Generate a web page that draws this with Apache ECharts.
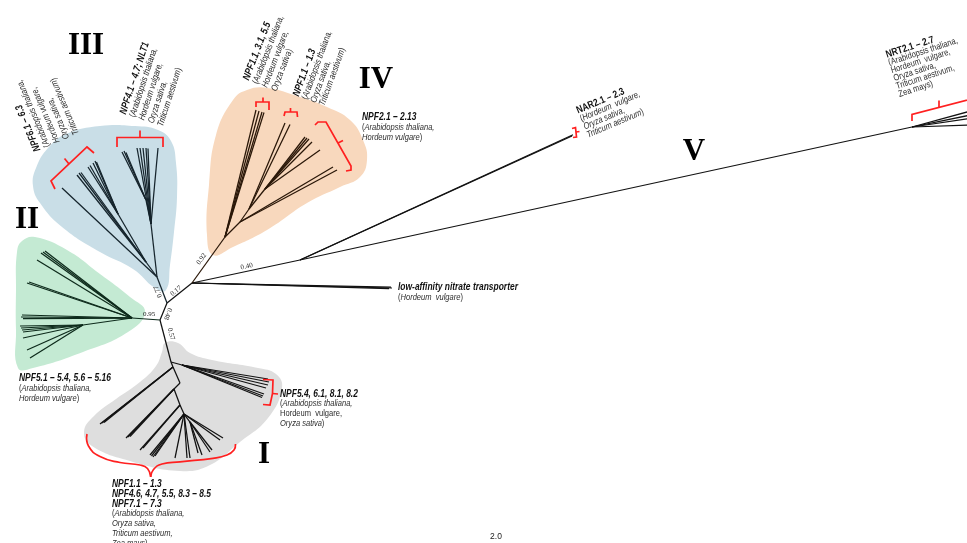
<!DOCTYPE html>
<html><head><meta charset="utf-8"><title>NPF phylogenetic tree</title>
<script src="https://cdn.jsdelivr.net/npm/echarts@6.0.0/dist/echarts.min.js"></script>
<style>html,body{margin:0;padding:0;background:#fff;overflow:hidden}#chart{width:967px;height:543px}</style>
</head><body><div id="chart"></div>
<script>
// ================= DATA =================
// tree nodes: [id, parentId, x, y] in tree-space units
const coreNodes = [
  ['A', null, 160, 320], ['B', 'A', 167, 303], ['C', 'B', 192, 283],
  ['D', 'C', 300, 260], ['E', 'D', 912, 127],
  ['LA1', 'C', 392, 288], ['LA2', 'C', 391, 287.2], ['LA3', 'C', 389, 288.7],
  ['NA1', 'D', 572, 136], ['NA2', 'D', 573, 134.8],
  ['NT1', 'E', 1000, 103], ['NT2', 'E', 1000, 109], ['NT3', 'E', 1000, 114], ['NT4', 'E', 1000, 124]
];
const cladeI = [
  ['N1', 'A', 171, 362], ['r1', 'N1', 182, 365],
  ['L1a1', 'r1', 268, 379], ['L1a2', 'r1', 269, 382], ['L1a3', 'r1', 268, 385], ['L1a4', 'r1', 266, 388],
  ['L1a5', 'r1', 264, 394], ['L1a6', 'r1', 262, 397.5], ['L1a7', 'r1', 263, 396],
  ['P1', 'N1', 173, 367],
  ['L1b1', 'P1', 102, 423], ['L1b2', 'P1', 100, 424], ['L1b3', 'P1', 104, 422.5],
  ['Q1', 'P1', 180, 383], ['R1', 'Q1', 174, 389],
  ['L1c1', 'R1', 128, 437], ['L1c2', 'R1', 126, 438], ['L1c3', 'R1', 130, 436.5],
  ['N2', 'R1', 180, 405],
  ['L1d1', 'N2', 140, 450], ['L1d2', 'N2', 143, 448],
  ['n2a', 'N2', 184, 414],
  ['L1e1', 'n2a', 150, 455], ['L1e2', 'n2a', 151.5, 456], ['L1e3', 'n2a', 153, 457], ['L1e4', 'n2a', 155, 456],
  ['L1f', 'n2a', 175, 458],
  ['L1g1', 'n2a', 187, 458], ['L1g2', 'n2a', 190, 458],
  ['n2b', 'n2a', 190, 422],
  ['L1h1', 'n2b', 198, 453], ['L1h2', 'n2b', 202, 455], ['L1h3', 'n2b', 210, 452], ['L1h4', 'n2b', 212, 450],
  ['L1i1', 'n2a', 220, 440], ['L1i2', 'n2a', 223, 438]
];
const cladeII = [
  ['p2', 'A', 132, 318],
  ['L2a1', 'p2', 41, 253], ['L2a2', 'p2', 43, 252], ['L2a3', 'p2', 45, 251], ['L2a4', 'p2', 37, 260],
  ['L2b1', 'p2', 27, 283], ['L2b2', 'p2', 29, 282],
  ['L2c1', 'p2', 21, 317], ['L2c2', 'p2', 22, 315], ['L2c3', 'p2', 23, 318.5],
  ['t2', 'p2', 83, 325],
  ['L2d1', 't2', 20, 326], ['L2d2', 't2', 21, 328], ['L2d3', 't2', 22, 330], ['L2d4', 't2', 23, 332],
  ['L2e', 't2', 23, 338], ['L2f', 't2', 27, 350], ['L2g', 't2', 30, 358]
];
const cladeIII = [
  ['n3', 'B', 157, 277],
  ['L3a', 'n3', 62, 188],
  ['a3', 'n3', 146, 262],
  ['L3b1', 'a3', 77, 175], ['L3b2', 'a3', 79, 173], ['L3b3', 'a3', 81, 172.5],
  ['b3', 'a3', 118, 214],
  ['L3c1', 'b3', 88, 167], ['L3c2', 'b3', 90, 165.5], ['L3c3', 'b3', 93, 163], ['L3c4', 'b3', 95, 161], ['L3c5', 'b3', 96.5, 162],
  ['c3', 'n3', 151, 224],
  ['d3', 'c3', 146, 200],
  ['L3d1', 'd3', 122, 152], ['L3d2', 'd3', 124, 151], ['L3d3', 'd3', 126, 152.5],
  ['L3e1', 'c3', 137, 148], ['L3e2', 'c3', 140, 148], ['L3e3', 'c3', 143, 148], ['L3e4', 'c3', 146, 148], ['L3e5', 'c3', 148, 148.5],
  ['L3f', 'c3', 158, 148]
];
const cladeIV = [
  ['r4', 'C', 225, 237],
  ['L4a1', 'r4', 256, 110], ['L4a2', 'r4', 259, 111], ['L4a3', 'r4', 262, 112], ['L4a4', 'r4', 264, 112.5],
  ['f4', 'r4', 240, 222],
  ['L4c1', 'f4', 333, 167], ['L4c2', 'f4', 337, 170],
  ['h4', 'f4', 249, 209],
  ['L4b1', 'h4', 285, 123], ['L4b2', 'h4', 290, 124.5],
  ['i4', 'h4', 265, 189],
  ['L4d1', 'i4', 305, 137], ['L4d2', 'i4', 307, 138], ['L4d3', 'i4', 309, 139], ['L4d4', 'i4', 312, 142], ['L4d5', 'i4', 320, 150]
];

// clade shading outlines
const blobI = [[165,343],[178,343],[190,353],[212,360],[258,368],[276,374],[282,388],[268,418],[240,442],[210,465],[180,471],[130,461],[92,446],[84,432],[94,416],[116,399],[140,382],[156,366],[162,352]];
const blobII = [[17,252],[22,241],[35,237],[67,250],[100,274],[130,297],[145,312],[128,332],[83,352],[33,368],[18,368],[16,330],[16,290]];
const blobIII = [[33,186],[36,168],[48,148],[66,134],[100,126],[135,126],[158,130],[171,141],[176,163],[177,197],[174,232],[170,265],[166,290],[155,288],[133,269],[100,252],[62,227],[40,203]];
const blobIV = [[247,90],[267,88],[300,97],[327,107],[350,120],[363,140],[367,160],[360,177],[340,187],[307,203],[267,230],[233,247],[213,255],[207,235],[209,185],[216,135],[233,100]];

// support values on internal branches
const supportValues = ['0.95', '0.77', '0.17', '0.92', '0.40', '0.48', '0.57'];
// clade numerals
const cladeNames = ['I', 'II', 'III', 'IV', 'V'];
// scale label
const scaleLabel = '2.0';

// gene-family labels (rich text lines)
const labelNPF6 = ['{b|NPF6.1 – 6.3}', '{n|(}{i|Arabidopsis thaliana,}', '{i|Hordeum vulgare,}', '{i|Oryza sativa,}', '{i|Triticum aestivum}{n|)}'];
const labelNPF4 = ['{b|NPF4.1 – 4.7; NLT1}', '{n|(}{i|Arabidopsis thaliana,}', '{i|Hordeum vulgare,}', '{i|Oryza sativa,}', '{i|Triticum aestivum}{n|)}'];
const labelNPF1a = ['{b|NPF1.1, 3.1, 5.5}', '{n|(}{i|Arabidopsis thaliana,}', '{i|Hordeum vulgare,}', '{i|Oryza sativa}{n|)}'];
const labelNPF1b = ['{b|NPF1.1 – 1.3}', '{n|(}{i|Arabidopsis thaliana,}', '{i|Oryza sativa,}', '{i|Triticum aestivum}{n|)}'];
const labelNPF2 = ['{b|NPF2.1 – 2.13}', '{n|(}{i|Arabidopsis thaliana,}', '{i|Hordeum vulgare}{n|)}'];
const labelNAR2 = ['{bn|NAR2.1 – 2.3}', '{n|(}{i|Hordeum  vulgare,}', '{i|Oryza sativa,}', '{i|Triticum aestivum}{n|)}'];
const labelNRT2 = ['{bn|NRT2.1 – 2.7}', '{n|(Arabidopsis thaliana,}', '{n|Hordeum  vulgare,}', '{n|Oryza sativa,}', '{n|Triticum aestivum,}', '{n|Zea mays)}'];
const labelLow = ['{b|low-affinity nitrate transporter}', '{n|(}{i|Hordeum  vulgare}{n|)}'];
const labelNPF5a = ['{b|NPF5.1 – 5.4, 5.6 – 5.16}', '{n|(}{i|Arabidopsis thaliana,}', '{i|Hordeum vulgare}{n|)}'];
const labelNPF5b = ['{b|NPF5.4, 6.1, 8.1, 8.2}', '{n|(}{i|Arabidopsis thaliana,}', '{n|Hordeum  vulgare,}', '{i|Oryza sativa}{n|)}'];
const labelCladeI = ['{b|NPF1.1 – 1.3}', '{b|NPF4.6, 4.7, 5.5, 8.3 – 8.5}', '{b|NPF7.1 – 7.3}', '{n|(}{i|Arabidopsis thaliana,}', '{i|Oryza sativa,}', '{i|Triticum aestivum,}', '{i|Zea mays}{n|)}'];

// ================= LAYOUT / STYLE =================
function hasFont(f) {
  const c = document.createElement('canvas').getContext('2d');
  const s = 'mmmmmmmmmmwwwwwlli0123456789';
  c.font = '40px monospace'; const a = c.measureText(s).width;
  c.font = '40px "' + f + '", monospace'; return c.measureText(s).width !== a;
}
const NARROW = hasFont('Liberation Sans Narrow');
const SANS = NARROW ? '"Liberation Sans Narrow", "Arial Narrow", sans-serif' : '"Liberation Sans", Arial, sans-serif';
const SX = NARROW ? 1 : 0.82;
const SERIF = '"Liberation Serif", "Times New Roman", serif';
const FS_B = 10.3, FS_N = 9.2;
const rich = {
  b: { fontFamily: SANS, fontSize: FS_B, fontWeight: 'bold', fontStyle: 'italic', fill: '#111' },
  bn: { fontFamily: SANS, fontSize: FS_B, fontWeight: 'bold', fill: '#111' },
  i: { fontFamily: SANS, fontSize: FS_N, fontStyle: 'italic', fill: '#2a2a2a' },
  n: { fontFamily: SANS, fontSize: FS_N, fill: '#2a2a2a' }
};

const clades = [
  { nodes: coreNodes, color: '#121212' },
  { nodes: cladeI, color: '#121212' },
  { nodes: cladeII, color: '#0d2a1b' },
  { nodes: cladeIII, color: '#15242c' },
  { nodes: cladeIV, color: '#2a1708' }
];
const blobs = [
  { pts: blobIII, color: '#c9dee7' },
  { pts: blobIV, color: '#f8d8bd' },
  { pts: blobII, color: '#c4ead3' },
  { pts: blobI, color: '#dedede' }
];
const labelBlocks = [
  { lines: labelNPF6, at: [38, 151], rot: 113, lh: 10.5 },
  { lines: labelNPF4, at: [123, 114], rot: 72, lh: 9.8 },
  { lines: labelNPF1a, at: [246, 80], rot: 69, lh: 10 },
  { lines: labelNPF1b, at: [296, 96], rot: 70, lh: 9.2 },
  { lines: labelNPF2, at: [362, 117], rot: 0, lh: 10 },
  { lines: labelNAR2, at: [577, 111], rot: 23, lh: 8.8 },
  { lines: labelNRT2, at: [886, 55], rot: 18, lh: 8.3 },
  { lines: labelLow, at: [398, 287], rot: 0, lh: 10.3 },
  { lines: labelNPF5a, at: [19, 378], rot: 0, lh: 10 },
  { lines: labelNPF5b, at: [280, 394], rot: 0, lh: 9.8 },
  { lines: labelCladeI, at: [112, 484], rot: 0, lh: 9.85 }
];
const supportLayout = [[149, 314, 0], [158, 291.5, 113], [176, 291, 39], [201.5, 259, 54], [246.7, 266.5, 12], [168, 314, -110], [171, 334, -75]];
const cladeNameLayout = [[264, 455], [27, 220], [86, 46], [376, 80], [694, 152]];
const scaleLayout = [496, 537];

const brackets = [
  { pts: [[55,189],[51,181],[87,147],[94,153]], tick: [[69,164],[64.5,158.5]] },
  { pts: [[117,147],[117,137.5],[163,137.5],[163,147]], tick: [[140,137.5],[140,130.5]] },
  { pts: [[256,107],[256,102],[269,102],[269,110]], tick: [[263,102],[263,97.5]] },
  { pts: [[284,116],[285,112],[297,112],[297.5,117]], tick: [[290.5,112],[290.5,108]] },
  { pts: [[315,125],[318,122],[326,122],[351,166],[351,170],[346,171]], tick: [[338,143],[343,140.5]] },
  { pts: [[572,128.5],[575.5,127.5],[576.5,137],[573,137.5]], tick: [[576,132],[579.5,131.5]] },
  { pts: [[912,121],[912,114.5],[975,98]], tick: [[939,107.5],[939,100.5]] },
  { pts: [[263,379.5],[273,380],[272.5,393.5],[270,405],[263,404.5]], tick: [[272.5,393.5],[278,394]] },
  { pts: [[87,434],[88.5,446],[100,456.5],[120,462.5],[140,465],[147.5,468.5],[150.7,477]], smooth: true },
  { pts: [[150.7,477],[153.5,469.5],[162,464],[180,461.8],[213,458.3],[227,455],[234,450],[235.5,444]], smooth: true }
];

// ================= BUILD =================
const pos = {};
clades.forEach(c => c.nodes.forEach(n => { pos[n[0]] = [n[2], n[3]]; }));
function edges(nodes) {
  return nodes.filter(n => n[1] !== null).map(n => ({ coords: [pos[n[1]], [n[2], n[3]]] }));
}
const RAD = Math.PI / 180;

const textItems = [];
labelBlocks.forEach(b => textItems.push({ kind: 'block', b }));
supportValues.forEach((v, i) => textItems.push({ kind: 'support', text: v, p: supportLayout[i] }));
cladeNames.forEach((v, i) => textItems.push({ kind: 'numeral', text: v, p: cladeNameLayout[i] }));
textItems.push({ kind: 'scale', text: scaleLabel, p: scaleLayout });

const chart = echarts.init(document.getElementById('chart'), null, { renderer: 'canvas' });
chart.setOption({
  animation: false,
  backgroundColor: '#ffffff',
  grid: { left: 0, right: 0, top: 0, bottom: 0 },
  xAxis: { type: 'value', min: 0, max: 967, show: false },
  yAxis: { type: 'value', min: 0, max: 543, inverse: true, show: false },
  series: [
    {
      type: 'custom', coordinateSystem: 'cartesian2d', silent: true, z: 1,
      data: blobs.map(() => [0, 0]),
      renderItem: (params, api) => {
        const b = blobs[params.dataIndex];
        return { type: 'polygon', shape: { points: b.pts.map(p => api.coord(p)), smooth: 0.45 }, style: { fill: b.color } };
      }
    },
    ...clades.map(c => ({
      type: 'lines', coordinateSystem: 'cartesian2d', silent: true, z: 2,
      data: edges(c.nodes),
      lineStyle: { color: c.color, width: 1.25, opacity: 1 }
    })),
    {
      type: 'custom', coordinateSystem: 'cartesian2d', silent: true, z: 3,
      data: brackets.map(() => [0, 0]),
      renderItem: (params, api) => {
        const br = brackets[params.dataIndex];
        const st = { stroke: '#ff2020', lineWidth: 1.7, fill: null, lineJoin: 'miter' };
        const children = [{ type: 'polyline', shape: { points: br.pts.map(p => api.coord(p)), smooth: br.smooth ? 0.5 : 0 }, style: st }];
        if (br.tick) children.push({ type: 'polyline', shape: { points: br.tick.map(p => api.coord(p)) }, style: st });
        return { type: 'group', children };
      }
    },
    {
      type: 'custom', coordinateSystem: 'cartesian2d', silent: true, z: 4,
      data: textItems.map(() => [0, 0]),
      renderItem: (params, api) => {
        const t = textItems[params.dataIndex];
        if (t.kind === 'block') {
          const b = t.b, th = b.rot * RAD, p0 = api.coord(b.at);
          const dx = Math.sin(th), dy = Math.cos(th);
          return {
            type: 'group',
            children: b.lines.map((ln, i) => ({
              type: 'text', x: p0[0] + dx * b.lh * i, y: p0[1] + dy * b.lh * i, rotation: th, scaleX: SX,
              style: { text: ln, rich, align: 'left', verticalAlign: 'middle', fontFamily: SANS, fontSize: FS_N, fill: '#222' }
            }))
          };
        }
        const p = api.coord([t.p[0], t.p[1]]);
        if (t.kind === 'support') {
          return { type: 'text', x: p[0], y: p[1], rotation: (t.p[2] || 0) * RAD,
            style: { text: t.text, fontFamily: SERIF, fontSize: 7, fill: '#222', align: 'center', verticalAlign: 'middle' } };
        }
        if (t.kind === 'numeral') {
          return { type: 'text', x: p[0], y: p[1],
            style: { text: t.text, fontFamily: SERIF, fontSize: 31, fontWeight: 'bold', fill: '#000', align: 'center', verticalAlign: 'middle' } };
        }
        return { type: 'text', x: p[0], y: p[1],
          style: { text: t.text, fontFamily: '"Liberation Sans", Arial, sans-serif', fontSize: 8.5, fill: '#222', align: 'center', verticalAlign: 'middle' } };
      }
    }
  ]
});
</script></body></html>
